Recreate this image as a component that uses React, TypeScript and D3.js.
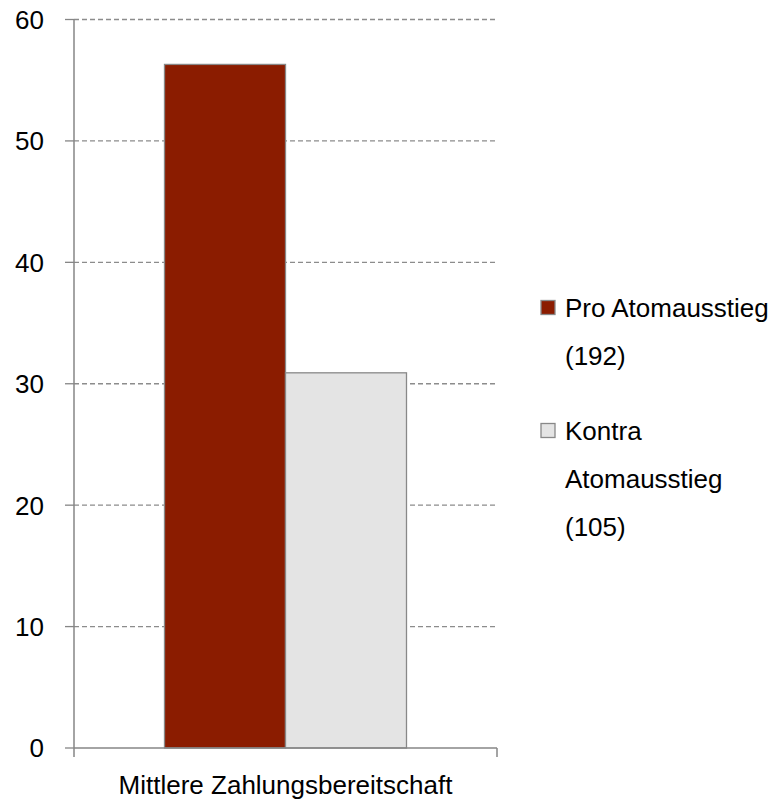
import React from "react";
import * as d3 from "d3";

const categories = ["Mittlere Zahlungsbereitschaft"];
const seriesNames = ["Pro Atomausstieg (192)", "Kontra Atomausstieg (105)"];
const seriesValues = [56.3, 30.9];
const seriesColors = ["#8B1C00", "#E4E4E4"];
const yTicks = [0, 10, 20, 30, 40, 50, 60];
const legendLines = [["Pro Atomausstieg", "(192)"], ["Kontra", "Atomausstieg", "(105)"]];

export default function App() {
  const W = 782, H = 804;
  const left = 74, right = 497, top = 19.5, bottom = 748;
  const y = d3.scaleLinear().domain([0, 60]).range([bottom, top]);
  const x0 = d3.scaleBand().domain(categories).range([left, right]).paddingInner(0).paddingOuter(0.374);
  const x1 = d3.scaleBand().domain(seriesNames).range([0, x0.bandwidth()]);
  const font = "'Liberation Sans', Arial, sans-serif";
  const axisColor = "#868686";
  const fs = 26;

  let legendY = 308;
  const legendItems: any[] = [];
  legendLines.forEach((lines, i) => {
    legendItems.push({ i, y: legendY, lines });
    legendY += lines.length * 48 + 27;
  });

  return (
    <svg width={W} height={H} style={{ position: "absolute", left: 0, top: 0 }} fontFamily={font}>
      {yTicks.map((t) => (
        <g key={t}>
          {t > 0 && (
            <line x1={left} x2={right} y1={y(t)} y2={y(t)} stroke="#8c8c8c" strokeWidth={1.3} strokeDasharray="5,3" />
          )}
          <line x1={left - 9} x2={left} y1={y(t)} y2={y(t)} stroke={axisColor} strokeWidth={1.3} />
          <text x={44} y={y(t)} dy="0.36em" textAnchor="end" fontSize={fs} fill="#000">{t}</text>
        </g>
      ))}
      {categories.map((c) => (
        <g key={c} transform={`translate(${x0(c)},0)`}>
          {seriesNames.map((s, i) => (
            <rect key={s} x={x1(s)} y={y(seriesValues[i])} width={x1.bandwidth()} height={bottom - y(seriesValues[i])}
              fill={seriesColors[i]} stroke="#888" strokeWidth={1.3} />
          ))}
        </g>
      ))}
      <line x1={left} x2={left} y1={top} y2={bottom + 9} stroke={axisColor} strokeWidth={1.5} />
      <line x1={left} x2={right} y1={bottom} y2={bottom} stroke={axisColor} strokeWidth={1.5} />
      <line x1={right} x2={right} y1={bottom} y2={bottom + 9} stroke={axisColor} strokeWidth={1.5} />
      {categories.map((c) => (
        <text key={c} x={(x0(c) as number) + x0.bandwidth() / 2} y={794} textAnchor="middle" fontSize={fs} fill="#000">{c}</text>
      ))}
      {legendItems.map((it) => (
        <g key={it.i}>
          <rect x={541} y={it.y - 7.5} width={14} height={14} fill={seriesColors[it.i]} stroke="#888" strokeWidth={1.3} />
          {it.lines.map((l: string, j: number) => (
            <text key={j} x={565} y={it.y + j * 48} dy="0.36em" fontSize={fs} fill="#000">{l}</text>
          ))}
        </g>
      ))}
    </svg>
  );
}
